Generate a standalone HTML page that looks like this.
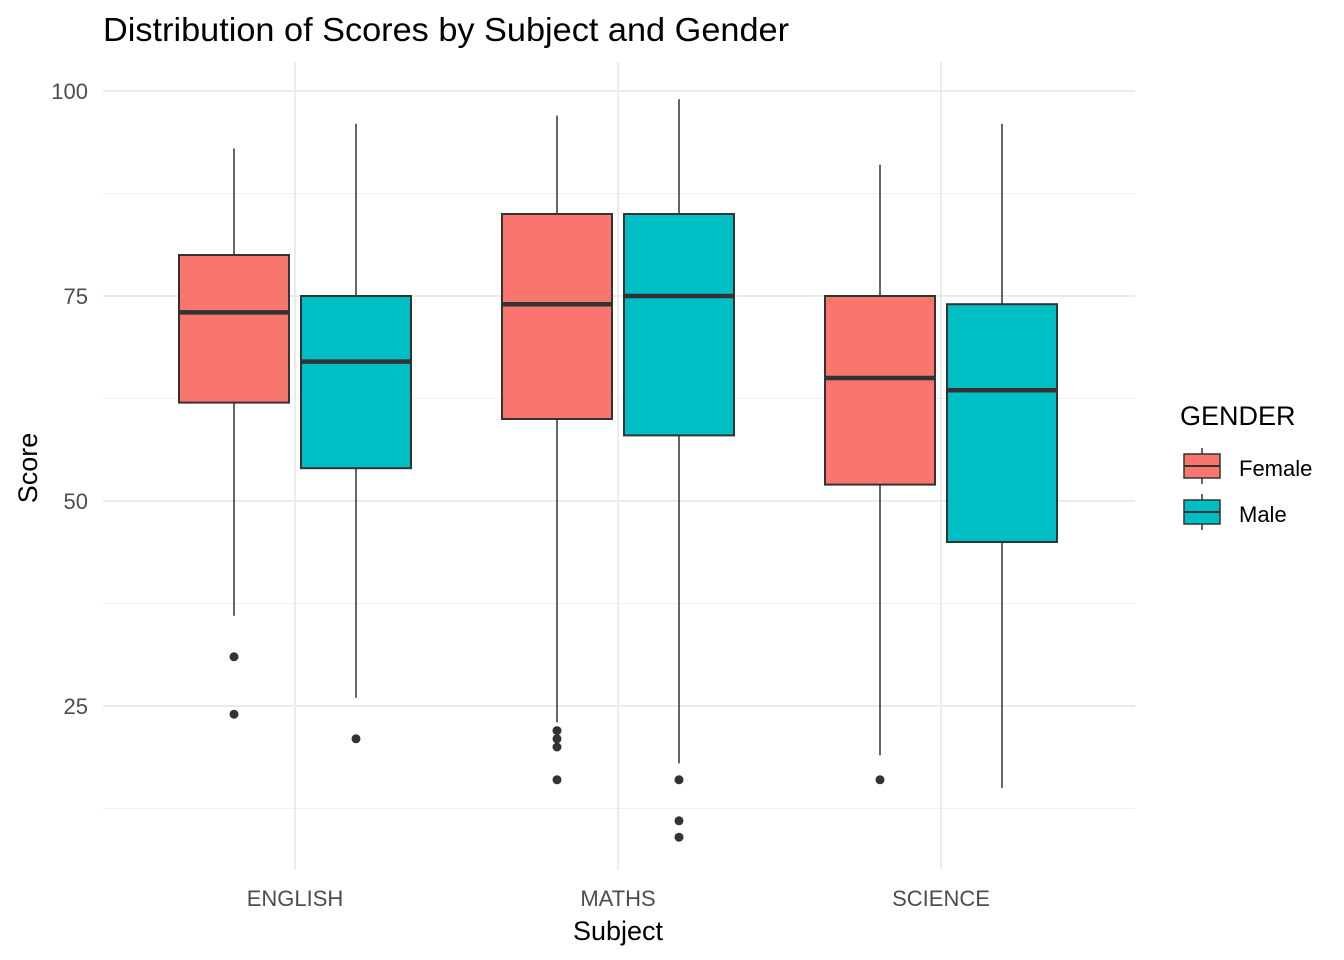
<!DOCTYPE html>
<html><head><meta charset="utf-8"><style>
body{margin:0;background:#fff;}
svg{display:block;font-family:"Liberation Sans",Arial,sans-serif;}
</style></head><body>
<svg id="chart" width="1344" height="960" viewBox="0 0 1344 960">
<text x="103" y="41" font-size="33" textLength="686" lengthAdjust="spacingAndGlyphs" fill="#000">Distribution of Scores by Subject and Gender</text>
<g id="grid"></g>
<g id="marks"></g>
<g id="axes"></g>
<text x="618" y="940" font-size="27" text-anchor="middle">Subject</text>
<text transform="translate(37,468) rotate(-90)" font-size="27" text-anchor="middle">Score</text>
<g>
<text x="1180" y="425" font-size="27">GENDER</text>
<g>
<line x1="1202" y1="448" x2="1202" y2="484" stroke="#333" stroke-width="1.5"/>
<rect x="1184" y="454" width="36" height="24" fill="#F8766D" stroke="#333" stroke-width="1.5"/>
<line x1="1184" y1="466" x2="1220" y2="466" stroke="#333" stroke-width="2"/>
<text x="1239" y="476" font-size="22">Female</text></g>
<g>
<line x1="1202" y1="494" x2="1202" y2="530" stroke="#333" stroke-width="1.5"/>
<rect x="1184" y="500" width="36" height="24" fill="#00BFC4" stroke="#333" stroke-width="1.5"/>
<line x1="1184" y1="512" x2="1220" y2="512" stroke="#333" stroke-width="2"/>
<text x="1239" y="522" font-size="22">Male</text></g>
</g>
</svg>
<script>
const subjects=["ENGLISH","MATHS","SCIENCE"];
const genders=["Female","Male"];
const colors=["#F8766D","#00BFC4"];
const lowerWhisker=[[36,26],[23,18],[19,15]];
const q1=[[62,54],[60,58],[52,45]];
const medians=[[73,67],[74,75],[65,63.5]];
const q3=[[80,75],[85,85],[75,74]];
const upperWhisker=[[93,96],[97,99],[91,96]];
const outliers=[[[31,24],[21]],[[22,21,20,16],[16,11,9]],[[16],[]]];
const yTicks=[25,50,75,100];
const yMinor=[12.5,37.5,62.5,87.5];

const y=v=>91+(100-v)*8.2;
const x=i=>295+i*323;
const ns="http://www.w3.org/2000/svg";
function mk(tag,attrs,parent){const e=document.createElementNS(ns,tag);for(const k in attrs)e.setAttribute(k,attrs[k]);parent.appendChild(e);return e;}
const grid=document.getElementById('grid'),marks=document.getElementById('marks'),axes=document.getElementById('axes');
yMinor.forEach(v=>{const l=mk('line',{x1:103,x2:1135,y1:y(v),y2:y(v),stroke:'#f0f0f0','stroke-width':1},grid);

});
yTicks.forEach(v=>{const l=mk('line',{x1:103,x2:1135,y1:y(v),y2:y(v),stroke:'#ebebeb','stroke-width':2},grid);


const t=mk('text',{x:88,y:y(v)+8,'font-size':22,'text-anchor':'end',fill:'#4d4d4d'},axes);t.textContent=v;

});
subjects.forEach((s,i)=>{const l=mk('line',{x1:x(i),x2:x(i),y1:62,y2:870,stroke:'#ebebeb','stroke-width':2},grid);


const t=mk('text',{x:x(i),y:906,'font-size':22,'text-anchor':'middle',fill:'#4d4d4d'},axes);t.textContent=s;


genders.forEach((g,j)=>{const cx=x(i)+(j?61:-61),w=110;
const grp=mk('g',{},marks);


mk('line',{x1:cx,x2:cx,y1:y(upperWhisker[i][j]),y2:y(q3[i][j]),stroke:'#333','stroke-width':1.5},grp);
mk('line',{x1:cx,x2:cx,y1:y(q1[i][j]),y2:y(lowerWhisker[i][j]),stroke:'#333','stroke-width':1.5},grp);
mk('rect',{x:cx-w/2,y:y(q3[i][j]),width:w,height:y(q1[i][j])-y(q3[i][j]),fill:colors[j],stroke:'#333','stroke-width':2},grp);
mk('line',{x1:cx-w/2,x2:cx+w/2,y1:y(medians[i][j]),y2:y(medians[i][j]),stroke:'#333','stroke-width':4.5},grp);
outliers[i][j].forEach(o=>{const c=mk('circle',{cx:cx,cy:y(o),r:4.5,fill:'#333'},grp);

});
});});
</script>
</body></html>
